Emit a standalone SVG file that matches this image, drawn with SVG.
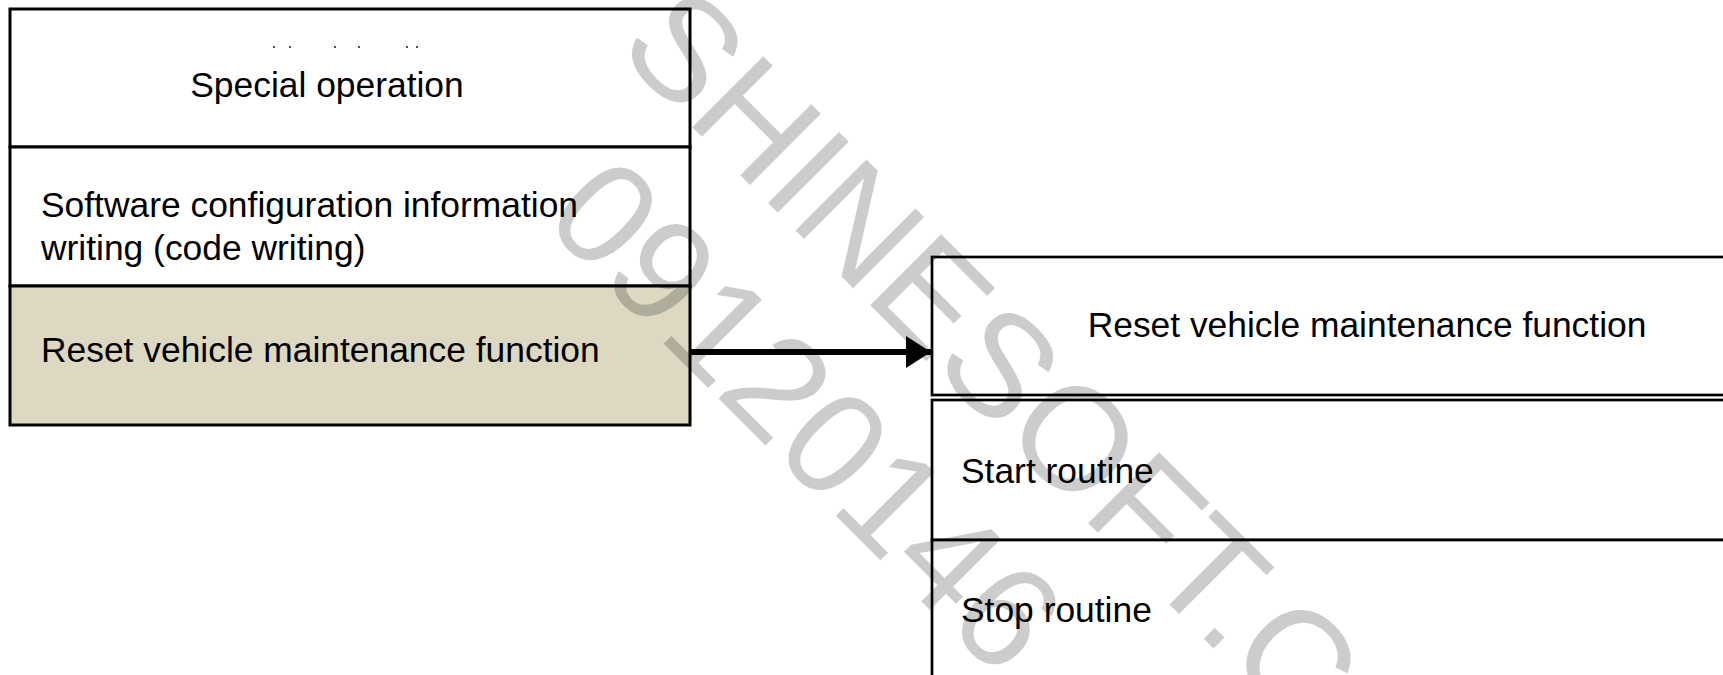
<svg xmlns="http://www.w3.org/2000/svg" width="1723" height="675" viewBox="0 0 1723 675">
  <style>
    .lbl { font-family: "Liberation Sans", Arial, sans-serif; font-size: 35.4px; fill: #000; }
    .cell { fill: #fff; stroke: #000; stroke-width: 3; }
    .sel { fill: #dcd8c2; stroke: #000; stroke-width: 3; }
    .rcell { fill: #fff; stroke: #000; stroke-width: 2.7; }
    .wm { font-family: "Liberation Sans", Arial, sans-serif; font-size: 146px; fill: #000; fill-opacity: 0.2; }
  </style>
  <defs>
    <marker id="arrow" viewBox="0 0 25 32" refX="25" refY="16" markerWidth="25" markerHeight="32" markerUnits="userSpaceOnUse" orient="auto">
      <path d="M0,0 L25,16 L0,32 Z" fill="#000"/>
    </marker>
  </defs>
  <rect width="1723" height="675" fill="#fff"/>

  <g id="left-menu">
    <g id="node-special-operation">
      <rect class="cell" x="10" y="9" width="680" height="138"/>
      <g fill="#555">
        <rect x="273" y="46" width="2" height="2"/>
        <rect x="289" y="46" width="2" height="2"/>
        <rect x="334" y="46" width="2" height="2"/>
        <rect x="358" y="46" width="2" height="2"/>
        <rect x="406" y="46" width="2" height="2"/>
        <rect x="416" y="46" width="2" height="2"/>
      </g>
      <text class="lbl" x="327" y="97" text-anchor="middle">Special operation</text>
    </g>
    <g id="node-software-config">
      <rect class="cell" x="10" y="147" width="680" height="139"/>
      <text class="lbl" x="41" y="217">Software configuration information</text>
      <text class="lbl" x="41" y="260">writing (code writing)</text>
    </g>
    <g id="node-reset-left">
      <rect class="sel" x="10" y="286" width="680" height="139"/>
      <text class="lbl" x="41" y="362">Reset vehicle maintenance function</text>
    </g>
  </g>

  <g id="right-menu">
    <g id="node-reset-right">
      <rect class="rcell" x="932" y="257" width="900" height="138"/>
      <text class="lbl" x="1367" y="337" text-anchor="middle">Reset vehicle maintenance function</text>
    </g>
    <g id="node-start-routine">
      <rect class="rcell" x="932" y="400" width="900" height="140"/>
      <text class="lbl" x="961" y="483">Start routine</text>
    </g>
    <g id="node-stop-routine">
      <rect class="rcell" x="932" y="540" width="900" height="200"/>
      <text class="lbl" x="961" y="622">Stop routine</text>
    </g>
  </g>

  <g id="connectors">
    <line x1="689" y1="352" x2="931" y2="352" stroke="#000" stroke-width="6" marker-end="url(#arrow)"/>
  </g>

  <g id="watermark">
    <text class="wm" transform="translate(615,50) rotate(45)">SHINESOFT.C</text>
    <text class="wm" transform="translate(541,221) rotate(45)">09120146</text>
  </g>
</svg>
